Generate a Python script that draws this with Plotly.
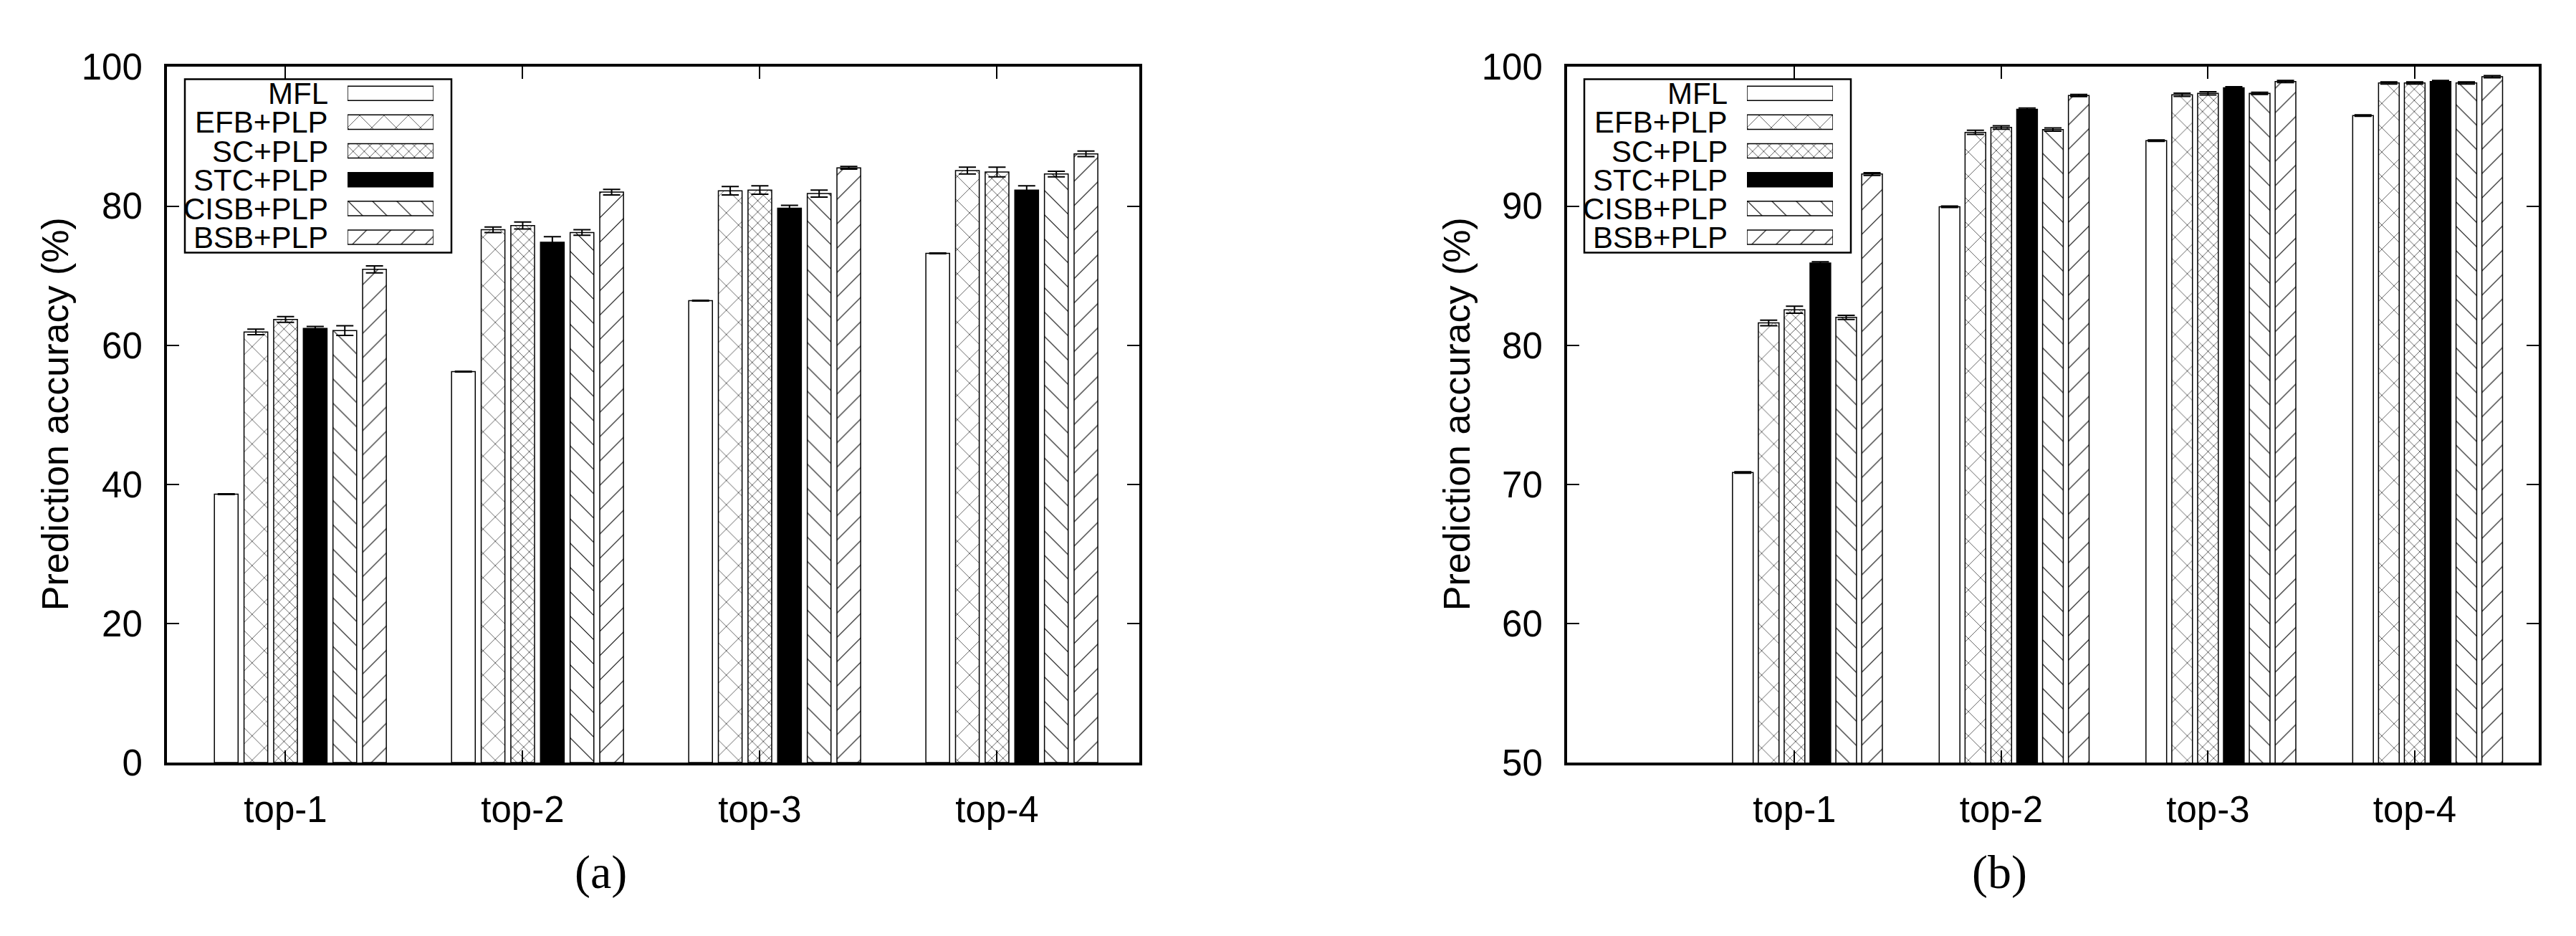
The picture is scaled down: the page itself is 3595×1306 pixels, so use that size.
import plotly.graph_objects as go

# categories and series
CATEGORIES = ["top-1", "top-2", "top-3", "top-4"]
SERIES = ["MFL", "EFB+PLP", "SC+PLP", "STC+PLP", "CISB+PLP", "BSB+PLP"]

# panel (a): prediction accuracy (%)
A_MFL = [38.6, 56.2, 66.4, 73.2]
A_EFB = [61.9, 76.6, 82.2, 85.1]
A_SC = [63.7, 77.2, 82.3, 84.9]
A_STC = [62.4, 74.8, 79.7, 82.3]
A_CISB = [62.1, 76.2, 81.8, 84.6]
A_BSB = [70.9, 82.0, 85.5, 87.5]

A_MFL_ERR = [0.05, 0.05, 0.05, 0.05]
A_EFB_ERR = [0.4, 0.4, 0.6, 0.5]
A_SC_ERR = [0.4, 0.5, 0.6, 0.7]
A_STC_ERR = [0.3, 0.8, 0.4, 0.6]
A_CISB_ERR = [0.7, 0.4, 0.5, 0.4]
A_BSB_ERR = [0.5, 0.4, 0.2, 0.4]

# panel (b): prediction accuracy (%)
B_MFL = [70.85, 89.95, 94.7, 96.5]
B_EFB = [81.6, 95.3, 98.0, 98.85]
B_SC = [82.55, 95.65, 98.1, 98.85]
B_STC = [85.9, 96.95, 98.5, 98.95]
B_CISB = [82.0, 95.5, 98.1, 98.85]
B_BSB = [92.3, 97.95, 98.95, 99.3]

B_MFL_ERR = [0.05, 0.05, 0.05, 0.05]
B_EFB_ERR = [0.2, 0.15, 0.12, 0.08]
B_SC_ERR = [0.25, 0.12, 0.12, 0.08]
B_STC_ERR = [0.1, 0.1, 0.08, 0.08]
B_CISB_ERR = [0.15, 0.12, 0.08, 0.08]
B_BSB_ERR = [0.1, 0.08, 0.08, 0.08]

W, H = 3595, 1306
SANS = "Liberation Sans, Arial, Helvetica, sans-serif"
SERIF = "Liberation Serif, Times New Roman, serif"

# fill style of each series (gnuplot-like patterns)
STYLES = {
    "MFL": dict(color="white", pattern=None),
    "EFB+PLP": dict(color="white", pattern=dict(shape="x", size=24, solidity=0.05)),
    "SC+PLP": dict(color="white", pattern=dict(shape="x", size=11, solidity=0.11)),
    "STC+PLP": dict(color="black", pattern=None),
    "CISB+PLP": dict(color="white", pattern=dict(shape="\\", size=24, solidity=0.045)),
    "BSB+PLP": dict(color="white", pattern=dict(shape="/", size=24, solidity=0.045)),
}


def px_x(x):
    return x / W


def px_y(y):
    return 1 - y / H


def marker_for(name):
    st = STYLES[name]
    m = dict(color=st["color"], line=dict(color="black", width=1.5))
    if st["pattern"]:
        m["pattern"] = dict(fgcolor="black", bgcolor="white", fillmode="replace", **st["pattern"])
    return m


def add_panel(fig, values, errors, xa, ya):
    """clustered bars of one panel"""
    for j, name in enumerate(SERIES):
        fig.add_trace(go.Bar(
            x=CATEGORIES, y=values[j], name=name, showlegend=False,
            width=0.1, offset=(j - 2) * 0.125 - 0.05,
            marker=marker_for(name),
            error_y=dict(type="data", array=errors[j], color="black", thickness=2, width=12),
            xaxis=xa, yaxis=ya,
        ))


def add_legend(fig, xa, ya, left):
    """legend box: label on the left, swatch on the right"""
    for name in SERIES:
        fig.add_trace(go.Bar(
            y=[name], x=[1], orientation="h", width=0.5, showlegend=False,
            marker=marker_for(name), xaxis=xa, yaxis=ya, hoverinfo="skip",
        ))
        fig.add_annotation(
            x=px_x(left + 201), y=name, xref="paper", yref=ya, text=name,
            showarrow=False, xanchor="right", yanchor="middle", height=34, valign="middle",
            borderpad=0, font=dict(family=SANS, size=42, color="black"),
        )
    fig.add_shape(
        type="rect", xref="paper", yref="paper",
        x0=px_x(left), x1=px_x(left + 372), y0=px_y(78), y1=px_y(331),
        line=dict(color="black", width=2.5), fillcolor="white", layer="below",
    )


fig = go.Figure()

add_panel(fig, [A_MFL, A_EFB, A_SC, A_STC, A_CISB, A_BSB],
          [A_MFL_ERR, A_EFB_ERR, A_SC_ERR, A_STC_ERR, A_CISB_ERR, A_BSB_ERR], "x", "y")
add_panel(fig, [B_MFL, B_EFB, B_SC, B_STC, B_CISB, B_BSB],
          [B_MFL_ERR, B_EFB_ERR, B_SC_ERR, B_STC_ERR, B_CISB_ERR, B_BSB_ERR], "x2", "y2")
add_legend(fig, "x3", "y3", 250)
add_legend(fig, "x4", "y4", 2203)

axis_common = dict(
    showline=True, linecolor="black", linewidth=4, mirror="allticks",
    ticks="inside", ticklen=17, tickwidth=1.5, tickcolor="black",
    showgrid=False, zeroline=False,
    tickfont=dict(family=SANS, size=51, color="black"),
)

fig.update_layout(
    width=W, height=H,
    margin=dict(l=0, r=0, t=0, b=0),
    paper_bgcolor="white", plot_bgcolor="rgba(0,0,0,0)",
    barmode="overlay",
    xaxis=dict(domain=[px_x(225), px_x(1582)], type="category", categoryarray=CATEGORIES,
               range=[-0.5, 3.6], ticklabelstandoff=18, anchor="y", **axis_common),
    yaxis=dict(domain=[px_y(1075), px_y(60)], range=[0, 100], dtick=20,
               ticklabelstandoff=20, anchor="x", **axis_common),
    xaxis2=dict(domain=[px_x(2179), px_x(3535)], type="category", categoryarray=CATEGORIES,
                range=[-1.1, 3.6], ticklabelstandoff=18, anchor="y2", **axis_common),
    yaxis2=dict(domain=[px_y(1075), px_y(60)], range=[50, 100], dtick=10,
                ticklabelstandoff=20, anchor="x2", **axis_common),
    xaxis3=dict(domain=[px_x(477), px_x(597)], range=[0, 1], visible=False, anchor="y3"),
    yaxis3=dict(domain=[px_y(329.5), px_y(77.5)], type="category", categoryarray=SERIES,
                autorange="reversed", visible=False, anchor="x3"),
    xaxis4=dict(domain=[px_x(2430), px_x(2550)], range=[0, 1], visible=False, anchor="y4"),
    yaxis4=dict(domain=[px_y(329.5), px_y(77.5)], type="category", categoryarray=SERIES,
                autorange="reversed", visible=False, anchor="x4"),
)

# axis titles and sub-figure captions
for xc in (69, 2025):
    fig.add_annotation(
        x=px_x(xc), y=px_y(567), xref="paper", yref="paper", text="Prediction accuracy (%)",
        textangle=-90, showarrow=False, xanchor="center", yanchor="middle",
        font=dict(family=SANS, size=52, color="black"),
    )
for xc, cap in ((830, "(a)"), (2782, "(b)")):
    fig.add_annotation(
        x=px_x(xc), y=px_y(1235), xref="paper", yref="paper", text=cap,
        showarrow=False, xanchor="center", yanchor="middle",
        font=dict(family=SERIF, size=66, color="black"),
    )

fig.write_html("out.html")
